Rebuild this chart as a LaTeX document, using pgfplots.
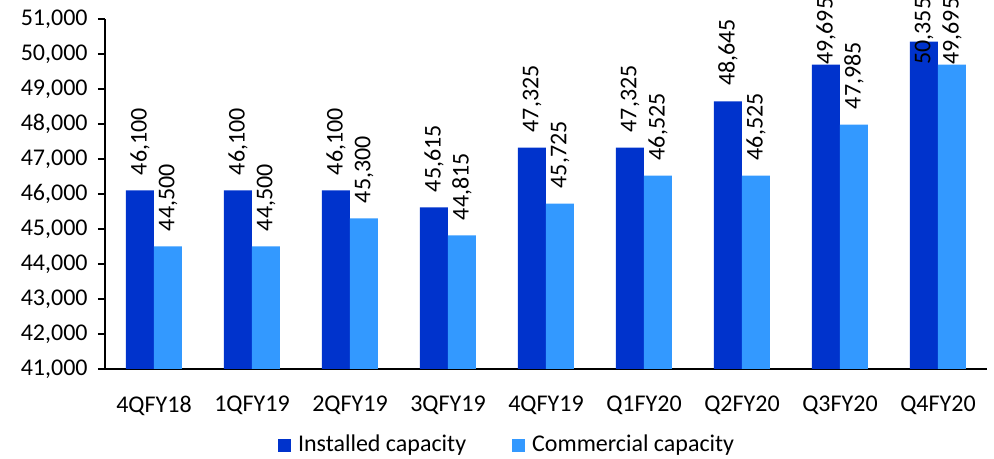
\documentclass[border=0pt,12pt]{standalone}
\usepackage{fontspec}
\setmainfont{Carlito}
\usepackage{pgfplots}
\usepackage{pgfplotstable}
\pgfplotsset{compat=1.18}
\definecolor{inst}{RGB}{0,51,204}
\definecolor{comm}{RGB}{51,153,255}
\pgfplotstableread{
x inst comm
0 46100 44500
1 46100 44500
2 46100 45300
3 45615 44815
4 47325 45725
5 47325 46525
6 48645 46525
7 49695 47985
8 50355 49695
}\capdata
\begin{document}
\begin{tikzpicture}
\useasboundingbox (-52.5pt,-45pt) rectangle (444.5pt,184.5pt);
\begin{axis}[
  at={(0pt,0pt)}, anchor=south west,
  scale only axis, width=441pt, height=175pt,
  ybar=0pt, bar width=14pt,
  xmin=-0.5, xmax=8.5, ymin=41000, ymax=51000,
  ytick distance=1000,
  scaled y ticks=false,
  /pgf/number format/.cd, fixed, 1000 sep={,}, assume math mode=true, /pgfplots/.cd,
  axis x line*=bottom, axis y line*=left,
  axis line style={black, line width=0.8pt, -},
  xtick={0,...,8},
  xticklabels={4QFY18,1QFY19,2QFY19,3QFY19,4QFY19,Q1FY20,Q2FY20,Q3FY20,Q4FY20},
  x tick style={draw=none},
  extra x ticks={-0.5,0.5,...,8.5},
  extra x tick labels={},
  extra x tick style={tick align=outside, major tick length=4.5pt, tick style={draw=black, line width=0.8pt}},
  y tick style={black, line width=0.8pt},
  tick align=outside, major tick length=3.5pt,
  yticklabel style={xshift=-1pt},
  xticklabel style={yshift=-6pt},
  clip mode=individual,
  nodes near coords,
  every node near coord/.append style={yshift=\dyA pt, rotate=90, anchor=west, inner sep=0pt, font=\normalsize, text=black},
  legend style={at={(0.457,0)}, anchor=center, yshift=-38pt, draw=none, legend columns=2,
    /tikz/every even column/.append style={column sep=21pt}, font=\normalsize},
  legend image code/.code={\fill[#1] (0pt,-3.25pt) rectangle (6.5pt,3.25pt); \path (8pt,0pt);},
]
\addplot[fill=inst, draw=none, visualization depends on={(min(\thisrow{inst}+430,49686)-\thisrow{inst})*0.0175 \as \dyA}] table[x=x, y=inst] {\capdata};
\addplot[fill=comm, draw=none, visualization depends on={(min(\thisrow{comm}+430,49686)-\thisrow{comm})*0.0175 \as \dyA}] table[x=x, y=comm] {\capdata};
\legend{Installed capacity, Commercial capacity}
\end{axis}
\end{tikzpicture}
\end{document}
